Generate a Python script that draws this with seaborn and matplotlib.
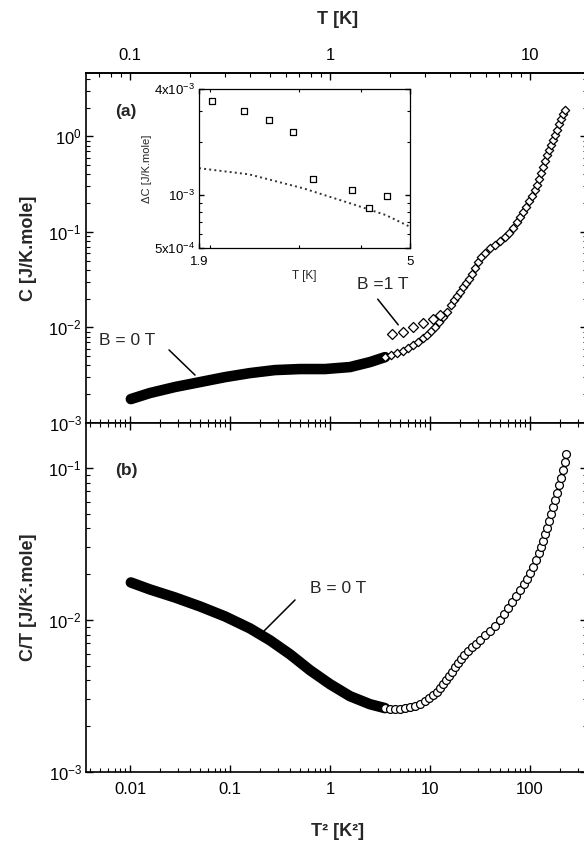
import numpy as np
import pandas as pd
import matplotlib
matplotlib.use("Agg")
import matplotlib.pyplot as plt
import matplotlib.ticker as mticker
import seaborn as sns

# ---------------- data ----------------
# Panel (a): C vs T^2, B = 0 T, dense low-T part (appears as a solid band)
T2_a_band = [0.0102, 0.01585, 0.02818, 0.05012, 0.08913, 0.1585, 0.2818, 0.5012, 0.8913, 1.585, 2.512, 3.548]
C_a_band = [1.78e-3, 2.06e-3, 2.38e-3, 2.68e-3, 3.02e-3, 3.33e-3, 3.58e-3, 3.67e-3, 3.67e-3, 3.85e-3, 4.34e-3, 4.89e-3]
# Panel (a): B = 0 T, open diamonds
T2_a_open = [3.548, 4.074, 4.677, 5.370, 6.026, 6.761, 7.586, 8.511, 9.333, 10.23, 11.22, 12.30, 13.49, 14.79,
             16.22, 17.38, 18.62, 19.95, 21.38, 22.91, 24.55, 26.30, 28.18, 30.20, 32.36,
             35.48, 39.81, 44.67, 50.12, 56.23, 61.66, 67.61,
             74.13, 79.43, 85.11, 91.20, 97.72, 104.7, 112.2, 117.5, 123.0, 128.8, 134.9, 141.3, 147.9,
             154.9, 162.2, 169.8, 177.8, 186.2, 195.0, 204.2, 213.8, 223.9]
C_a_open = [4.89e-3, 5.13e-3, 5.39e-3, 5.65e-3, 6.08e-3, 6.53e-3, 7.02e-3, 7.73e-3, 8.31e-3, 9.15e-3, 1.007e-2, 1.136e-2, 1.281e-2, 1.445e-2,
            1.710e-2, 1.929e-2, 2.123e-2, 2.338e-2, 2.637e-2, 2.904e-2, 3.197e-2, 3.606e-2, 4.165e-2, 4.81e-2, 5.43e-2,
            5.98e-2, 6.74e-2, 7.24e-2, 7.97e-2, 8.78e-2, 9.67e-2, 0.109,
            0.126, 0.142, 0.160, 0.181, 0.209, 0.235, 0.272, 0.307, 0.354, 0.409, 0.473, 0.547, 0.631,
            0.712, 0.803, 0.906, 1.022, 1.152, 1.331, 1.502, 1.694, 1.865]
# Panel (a): B = 1 T
T2_a_1T = [4.169, 5.370, 6.761, 8.511, 10.72, 12.59]
C_a_1T = [8.51e-3, 8.93e-3, 1.007e-2, 1.11e-2, 1.22e-2, 1.344e-2]

# Panel (b): C/T vs T^2
T2_b_band = [0.0102, 0.01585, 0.02818, 0.05012, 0.08913, 0.1585, 0.2512, 0.3981, 0.631, 1.0, 1.585, 2.512, 3.548]
CT_b_band = [1.762e-2, 1.585e-2, 1.404e-2, 1.226e-2, 1.054e-2, 8.79e-3, 7.34e-3, 5.94e-3, 4.67e-3, 3.78e-3,
             3.15e-3, 2.79e-3, 2.63e-3]
T2_b_open = [3.548, 3.981, 4.467, 5.012, 5.623, 6.310, 7.079, 7.943, 8.913, 9.772,
             10.72, 11.75, 12.59, 13.49, 14.45, 15.49, 16.60, 17.78, 19.05, 20.42,
             21.88, 23.99, 26.30, 28.84, 31.62, 35.48, 39.81, 44.67, 50.12, 54.95,
             60.26, 66.07, 72.44, 79.43, 87.10, 93.33, 100.0, 107.2, 114.8, 123.0,
             128.8, 134.9, 141.3, 147.9, 154.9, 162.2, 169.8, 177.8, 186.2, 195.0,
             204.2, 213.8, 223.9, 229.1]
CT_b_open = [2.63e-3, 2.59e-3, 2.59e-3, 2.59e-3, 2.63e-3, 2.67e-3, 2.71e-3, 2.79e-3, 2.92e-3, 3.06e-3,
             3.20e-3, 3.35e-3, 3.56e-3, 3.78e-3, 4.01e-3, 4.26e-3, 4.53e-3, 4.88e-3, 5.18e-3, 5.51e-3,
             5.85e-3, 6.22e-3, 6.60e-3, 6.91e-3, 7.34e-3, 7.91e-3, 8.41e-3, 9.06e-3, 9.93e-3, 1.086e-2,
             1.190e-2, 1.302e-2, 1.426e-2, 1.561e-2, 1.709e-2, 1.871e-2, 2.049e-2, 2.243e-2, 2.493e-2, 2.771e-2,
             3.03e-2, 3.32e-2, 3.69e-2, 4.04e-2, 4.49e-2, 4.99e-2, 5.55e-2, 6.17e-2, 6.86e-2, 7.74e-2,
             8.60e-2, 9.70e-2, 0.1095, 0.1235]

# Inset: Delta C vs T
T_in = [2.02, 2.34, 2.62, 2.92, 3.20, 3.83, 4.15, 4.50]
dC_in = [3.43e-3, 3.0e-3, 2.67e-3, 2.27e-3, 1.23e-3, 1.07e-3, 8.4e-4, 9.9e-4]
T_fit = [1.9, 2.39, 3.07, 3.8, 4.47, 5.0]
dC_fit = [1.42e-3, 1.31e-3, 1.09e-3, 8.97e-4, 7.7e-4, 6.6e-4]

# tick labels
T2_ticks = [0.01, 0.1, 1, 10, 100]
T_ticks = [0.1, 1, 10]
inset_x_ticks = [1.9, 5]
inset_x_labels = ["1.9", "5"]
inset_y_ticks = [5e-4, 1e-3, 4e-3]
inset_y_labels = ["5x10$^{-4}$", "10$^{-3}$", "4x10$^{-3}$"]

# ---------------- style ----------------
sns.set_theme(style="ticks")
plt.rcParams.update({
    "font.family": ["Liberation Sans", "DejaVu Sans"],
    "mathtext.default": "regular",
    "axes.edgecolor": "black",
    "axes.linewidth": 1.2,
    "xtick.color": "black", "ytick.color": "black",
    "xtick.direction": "in", "ytick.direction": "in",
    "xtick.major.size": 5, "ytick.major.size": 5,
    "xtick.minor.size": 2.6, "ytick.minor.size": 2.6,
    "xtick.major.width": 1.0, "ytick.major.width": 1.0,
    "xtick.minor.width": 0.8, "ytick.minor.width": 0.8,
})

W, H = 584, 852
fig = plt.figure(figsize=(W / 100, H / 100), dpi=100)


def box(l, t, r, b):
    return [l / W, 1 - b / H, (r - l) / W, (b - t) / H]


XMIN, XMAX = 0.00363, 371.5
ax_a = fig.add_axes(box(86, 73, 587, 423))
ax_b = fig.add_axes(box(86, 423, 587, 772))

open_kw = dict(facecolor="white", edgecolor="black", linewidth=0.9, zorder=3, legend=False)
fmt = mticker.FuncFormatter(lambda v, p: f"{v:g}")

# ---------------- panel (a) ----------------
ax_a.set_xscale("log")
ax_a.set_yscale("log")
ax_a.set_xlim(XMIN, XMAX)
ax_a.set_ylim(1e-3, 4.6)
df_ab = pd.DataFrame({"T2": T2_a_band, "C": C_a_band})
sns.lineplot(data=df_ab, x="T2", y="C", ax=ax_a, color="black", linewidth=7.6,
             estimator=None, sort=False, solid_capstyle="round")
sns.scatterplot(x=T2_a_open, y=C_a_open, ax=ax_a, marker="D", s=18, **open_kw)
sns.scatterplot(x=T2_a_1T, y=C_a_1T, ax=ax_a, marker="D", s=26, **open_kw)
ax_a.set_xlabel("")
ax_a.set_xticks(T2_ticks)
ax_a.tick_params(axis="x", which="both", bottom=True, top=False, labelbottom=False)
ax_a.tick_params(axis="y", which="both", left=True, right=True, labelsize=12, pad=3)
ax_a.set_ylabel("C [J/K.mole]", fontsize=13, fontweight="bold")
ax_a.yaxis.set_label_coords(-0.098, 0.5)

top = ax_a.secondary_xaxis("top", functions=(np.sqrt, np.square))
top.set_xticks(T_ticks)
top.xaxis.set_major_formatter(fmt)
top.tick_params(which="both", direction="in", labelsize=12, pad=7)
fig.text(338 / W, 1 - 20 / H, "T [K]", fontsize=13, fontweight="bold", ha="center", va="center")

ax_a.text(0.0798, 0.8886, "(a)", transform=ax_a.transAxes, fontsize=12.5,
          fontweight="bold", ha="center", va="center")
ax_a.text(0.0818, 0.2371, "B = 0 T", transform=ax_a.transAxes, fontsize=12.5,
          ha="center", va="center")
ax_a.annotate("", xy=(0.2216, 0.1314), xytext=(0.1617, 0.2143), xycoords="axes fraction",
              arrowprops=dict(arrowstyle="-", lw=1.1, color="black"))
ax_a.text(0.5928, 0.3943, "B =1 T", transform=ax_a.transAxes, fontsize=12.5,
          ha="center", va="center")
ax_a.annotate("", xy=(0.6267, 0.2743), xytext=(0.5788, 0.36), xycoords="axes fraction",
              arrowprops=dict(arrowstyle="-", lw=1.1, color="black"))

# ---------------- panel (b) ----------------
ax_b.set_xscale("log")
ax_b.set_yscale("log")
ax_b.set_xlim(XMIN, XMAX)
ax_b.set_ylim(1e-3, 0.197)
df_bb = pd.DataFrame({"T2": T2_b_band, "CT": CT_b_band})
sns.lineplot(data=df_bb, x="T2", y="CT", ax=ax_b, color="black", linewidth=7.6,
             estimator=None, sort=False, solid_capstyle="round")
sns.scatterplot(x=T2_b_open, y=CT_b_open, ax=ax_b, marker="o", s=32, **open_kw)
ax_b.set_xticks(T2_ticks)
ax_b.xaxis.set_major_formatter(fmt)
ax_b.tick_params(axis="x", which="both", bottom=True, top=True, labelsize=12, pad=7)
ax_b.tick_params(axis="y", which="both", left=True, right=True, labelsize=12, pad=3)
ax_b.set_xlabel("T² [K²]", fontsize=13, fontweight="bold")
ax_b.xaxis.set_label_coords(0.503, -0.146)
ax_b.set_ylabel("C/T [J/K².mole]", fontsize=13, fontweight="bold")
ax_b.yaxis.set_label_coords(-0.098, 0.5)

ax_b.text(0.0798, 0.8653, "(b)", transform=ax_b.transAxes, fontsize=12.5,
          fontweight="bold", ha="center", va="center")
ax_b.text(0.503, 0.5272, "B = 0 T", transform=ax_b.transAxes, fontsize=12.5,
          ha="center", va="center")
ax_b.annotate("", xy=(0.3513, 0.3983), xytext=(0.4212, 0.4986), xycoords="axes fraction",
              arrowprops=dict(arrowstyle="-", lw=1.1, color="black"))

# ---------------- inset ----------------
ax_in = fig.add_axes(box(199, 89, 410, 248))
ax_in.set_xscale("log")
ax_in.set_yscale("log")
sns.scatterplot(x=T_in, y=dC_in, ax=ax_in, marker="s", s=22, **open_kw)
sns.lineplot(x=T_fit, y=dC_fit, ax=ax_in, color="#333333", linestyle=":", linewidth=1.4,
             estimator=None, sort=False)
ax_in.set_xlim(1.9, 5)
ax_in.set_ylim(5e-4, 4e-3)
ax_in.set_xticks(inset_x_ticks)
ax_in.set_xticklabels(inset_x_labels)
ax_in.xaxis.set_minor_locator(mticker.FixedLocator([2, 3, 4]))
ax_in.xaxis.set_minor_formatter(mticker.NullFormatter())
ax_in.set_yticks(inset_y_ticks)
ax_in.set_yticklabels(inset_y_labels)
ax_in.yaxis.set_minor_formatter(mticker.NullFormatter())
for sp in ax_in.spines.values():
    sp.set_linewidth(0.9)
ax_in.tick_params(which="both", direction="in", top=True, right=True, labelsize=9.5)
ax_in.tick_params(axis="y", pad=3)
ax_in.tick_params(axis="x", pad=6)
ax_in.tick_params(which="major", length=3.5)
ax_in.tick_params(which="minor", length=2)
ax_in.set_xlabel("T [K]", fontsize=8.5, labelpad=1)
ax_in.set_ylabel("ΔC [J/K.mole]", fontsize=8, labelpad=1)

fig.savefig("out.png", dpi=100)
